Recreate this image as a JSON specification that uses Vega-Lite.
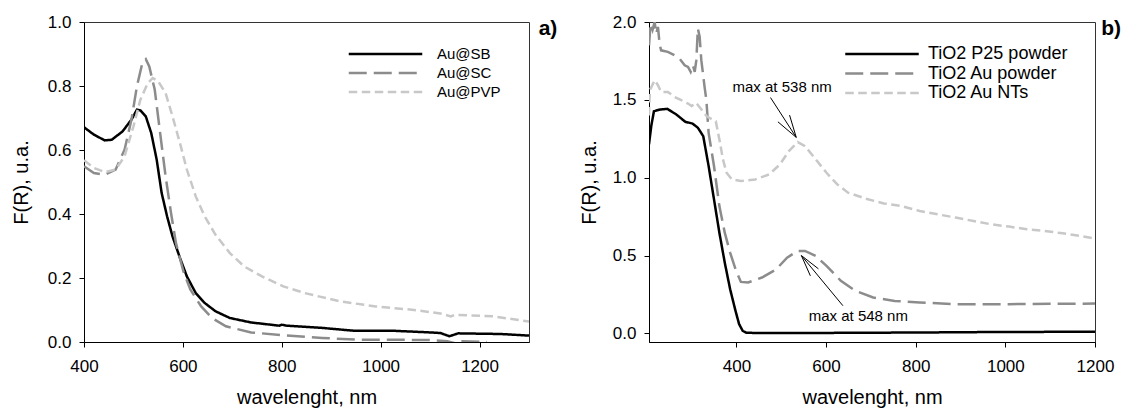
{
  "$schema": "https://vega.github.io/schema/vega-lite/v6.json",
  "padding": {"left": 10, "top": 12, "right": 0, "bottom": 0},
  "spacing": 20,
  "config": {
    "font": "Liberation Sans",
    "view": {"stroke": "#333333", "strokeWidth": 1},
    "axis": {"domainColor": "black", "tickColor": "black", "labelColor": "black", "titleColor": "black", "labelFontSize": 17, "titleFontSize": 20, "titleFontWeight": "normal", "grid": false, "tickSize": 5, "labelPadding": 8, "labelFlush": false, "labelFont": "Liberation Sans", "titleFont": "Liberation Sans"}
  },
  "resolve": {"scale": {"x": "independent", "y": "independent", "color": "independent", "strokeDash": "independent"}, "legend": {"color": "independent", "strokeDash": "independent"}},
  "hconcat": [
    {
      "width": 445, "height": 320,
      "title": {"text": "a)", "orient": "right", "anchor": "start", "angle": 0, "align": "left", "baseline": "top", "offset": -9, "dy": 5, "fontSize": 21, "fontWeight": "bold", "font": "Liberation Sans", "color": "black"},
      "data": {"values": [
        {"s":"Au@SB","w":400,"v":0.671},{"s":"Au@SB","w":420,"v":0.648},{"s":"Au@SB","w":442,"v":0.630},{"s":"Au@SB","w":456,"v":0.632},{"s":"Au@SB","w":478,"v":0.658},{"s":"Au@SB","w":496,"v":0.695},{"s":"Au@SB","w":507,"v":0.726},{"s":"Au@SB","w":514,"v":0.724},{"s":"Au@SB","w":525,"v":0.705},{"s":"Au@SB","w":536,"v":0.653},{"s":"Au@SB","w":547,"v":0.570},{"s":"Au@SB","w":557,"v":0.466},{"s":"Au@SB","w":568,"v":0.393},{"s":"Au@SB","w":579,"v":0.330},{"s":"Au@SB","w":594,"v":0.263},{"s":"Au@SB","w":608,"v":0.205},{"s":"Au@SB","w":626,"v":0.153},{"s":"Au@SB","w":644,"v":0.122},{"s":"Au@SB","w":666,"v":0.096},{"s":"Au@SB","w":695,"v":0.075},{"s":"Au@SB","w":738,"v":0.061},{"s":"Au@SB","w":795,"v":0.051},{"s":"Au@SB","w":800,"v":0.054},{"s":"Au@SB","w":810,"v":0.051},{"s":"Au@SB","w":882,"v":0.044},{"s":"Au@SB","w":947,"v":0.035},{"s":"Au@SB","w":1027,"v":0.035},{"s":"Au@SB","w":1099,"v":0.030},{"s":"Au@SB","w":1121,"v":0.028},{"s":"Au@SB","w":1139,"v":0.018},{"s":"Au@SB","w":1157,"v":0.027},{"s":"Au@SB","w":1243,"v":0.025},{"s":"Au@SB","w":1300,"v":0.020},
        {"s":"Au@SC","w":400,"v":0.549},{"s":"Au@SC","w":420,"v":0.528},{"s":"Au@SC","w":442,"v":0.523},{"s":"Au@SC","w":464,"v":0.539},{"s":"Au@SC","w":482,"v":0.601},{"s":"Au@SC","w":496,"v":0.695},{"s":"Au@SC","w":507,"v":0.799},{"s":"Au@SC","w":518,"v":0.872},{"s":"Au@SC","w":525,"v":0.884},{"s":"Au@SC","w":532,"v":0.861},{"s":"Au@SC","w":543,"v":0.789},{"s":"Au@SC","w":554,"v":0.653},{"s":"Au@SC","w":565,"v":0.518},{"s":"Au@SC","w":576,"v":0.403},{"s":"Au@SC","w":586,"v":0.309},{"s":"Au@SC","w":601,"v":0.221},{"s":"Au@SC","w":615,"v":0.164},{"s":"Au@SC","w":637,"v":0.111},{"s":"Au@SC","w":659,"v":0.075},{"s":"Au@SC","w":687,"v":0.049},{"s":"Au@SC","w":738,"v":0.030},{"s":"Au@SC","w":810,"v":0.020},{"s":"Au@SC","w":882,"v":0.0125},{"s":"Au@SC","w":955,"v":0.007},{"s":"Au@SC","w":1027,"v":0.007},{"s":"Au@SC","w":1099,"v":0.006},{"s":"Au@SC","w":1135,"v":0.002},{"s":"Au@SC","w":1148,"v":-0.003},{"s":"Au@SC","w":1165,"v":0.002},{"s":"Au@SC","w":1215,"v":0.0},
        {"s":"Au@PVP","w":400,"v":0.568},{"s":"Au@PVP","w":420,"v":0.544},{"s":"Au@PVP","w":442,"v":0.531},{"s":"Au@PVP","w":464,"v":0.539},{"s":"Au@PVP","w":482,"v":0.580},{"s":"Au@PVP","w":500,"v":0.674},{"s":"Au@PVP","w":514,"v":0.757},{"s":"Au@PVP","w":529,"v":0.809},{"s":"Au@PVP","w":539,"v":0.825},{"s":"Au@PVP","w":550,"v":0.815},{"s":"Au@PVP","w":565,"v":0.778},{"s":"Au@PVP","w":579,"v":0.705},{"s":"Au@PVP","w":594,"v":0.622},{"s":"Au@PVP","w":608,"v":0.539},{"s":"Au@PVP","w":626,"v":0.455},{"s":"Au@PVP","w":644,"v":0.393},{"s":"Au@PVP","w":666,"v":0.335},{"s":"Au@PVP","w":695,"v":0.278},{"s":"Au@PVP","w":724,"v":0.236},{"s":"Au@PVP","w":760,"v":0.205},{"s":"Au@PVP","w":803,"v":0.174},{"s":"Au@PVP","w":846,"v":0.153},{"s":"Au@PVP","w":918,"v":0.127},{"s":"Au@PVP","w":990,"v":0.111},{"s":"Au@PVP","w":1063,"v":0.101},{"s":"Au@PVP","w":1121,"v":0.089},{"s":"Au@PVP","w":1142,"v":0.080},{"s":"Au@PVP","w":1150,"v":0.085},{"s":"Au@PVP","w":1229,"v":0.080},{"s":"Au@PVP","w":1300,"v":0.064}
      ]},
      "mark": {"type": "line", "strokeWidth": 2.5, "clip": true},
      "encoding": {
        "x": {"field": "w", "type": "quantitative", "scale": {"domain": [400, 1300], "nice": false, "zero": false}, "axis": {"title": "wavelenght, nm", "values": [400, 600, 800, 1000, 1200], "format": "d", "labelPadding": 11, "titlePadding": 13}},
        "y": {"field": "v", "type": "quantitative", "scale": {"domain": [0, 1], "nice": false}, "axis": {"title": "F(R), u.a.", "values": [0, 0.2, 0.4, 0.6, 0.8, 1.0], "format": ".1f", "titlePadding": 16}},
        "color": {"field": "s", "type": "nominal", "scale": {"domain": ["Au@SB", "Au@SC", "Au@PVP"], "range": ["#000000", "#8c8c8c", "#c8c8c8"]},
          "legend": {"orient": "none", "legendX": 294, "legendY": 24.5, "title": null, "symbolType": "M-10.5,0H10.5", "symbolSize": 49, "symbolStrokeWidth": 2.5, "labelFontSize": 15, "labelFont": "Liberation Sans", "labelColor": "black", "labelOffset": 44, "rowPadding": 3, "padding": 0}},
        "strokeDash": {"field": "s", "type": "nominal", "scale": {"domain": ["Au@SB", "Au@SC", "Au@PVP"], "range": [[1, 0], [18, 7], [8.5, 4.5]]},
          "legend": {"orient": "none", "legendX": 294, "legendY": 24.5, "title": null, "symbolType": "M-10.5,0H10.5", "symbolSize": 49, "symbolStrokeWidth": 2.5, "labelFontSize": 15, "labelFont": "Liberation Sans", "labelColor": "black", "labelOffset": 44, "rowPadding": 3, "padding": 0}}
      }
    },
    {
      "width": 446, "height": 320,
      "title": {"text": "b)", "orient": "right", "anchor": "start", "angle": 0, "align": "left", "baseline": "top", "offset": -32.5, "dy": 5, "fontSize": 21, "fontWeight": "bold", "font": "Liberation Sans", "color": "black"},
      "layer": [
        {
          "data": {"values": [
            {"s":"TiO2 P25 powder","w":205,"v":1.214},{"s":"TiO2 P25 powder","w":210,"v":1.331},{"s":"TiO2 P25 powder","w":216,"v":1.427},{"s":"TiO2 P25 powder","w":230,"v":1.438},{"s":"TiO2 P25 powder","w":246,"v":1.442},{"s":"TiO2 P25 powder","w":266,"v":1.406},{"s":"TiO2 P25 powder","w":286,"v":1.359},{"s":"TiO2 P25 powder","w":302,"v":1.348},{"s":"TiO2 P25 powder","w":314,"v":1.321},{"s":"TiO2 P25 powder","w":326,"v":1.267},{"s":"TiO2 P25 powder","w":338,"v":1.075},{"s":"TiO2 P25 powder","w":350,"v":0.861},{"s":"TiO2 P25 powder","w":362,"v":0.647},{"s":"TiO2 P25 powder","w":374,"v":0.455},{"s":"TiO2 P25 powder","w":386,"v":0.284},{"s":"TiO2 P25 powder","w":398,"v":0.145},{"s":"TiO2 P25 powder","w":406,"v":0.060},{"s":"TiO2 P25 powder","w":414,"v":0.017},{"s":"TiO2 P25 powder","w":422,"v":0.004},{"s":"TiO2 P25 powder","w":489,"v":0.002},{"s":"TiO2 P25 powder","w":649,"v":0.004},{"s":"TiO2 P25 powder","w":809,"v":0.006},{"s":"TiO2 P25 powder","w":968,"v":0.009},{"s":"TiO2 P25 powder","w":1200,"v":0.011},
            {"s":"TiO2 Au powder","w":205,"v":1.85},{"s":"TiO2 Au powder","w":208.6,"v":1.99},{"s":"TiO2 Au powder","w":213,"v":1.95},{"s":"TiO2 Au powder","w":217.6,"v":2.0},{"s":"TiO2 Au powder","w":221,"v":1.925},{"s":"TiO2 Au powder","w":225,"v":1.968},{"s":"TiO2 Au powder","w":228.6,"v":1.861},{"s":"TiO2 Au powder","w":232,"v":1.818},{"s":"TiO2 Au powder","w":247,"v":1.808},{"s":"TiO2 Au powder","w":262,"v":1.786},{"s":"TiO2 Au powder","w":273,"v":1.765},{"s":"TiO2 Au powder","w":284.6,"v":1.722},{"s":"TiO2 Au powder","w":292,"v":1.712},{"s":"TiO2 Au powder","w":298,"v":1.680},{"s":"TiO2 Au powder","w":303,"v":1.722},{"s":"TiO2 Au powder","w":307,"v":1.680},{"s":"TiO2 Au powder","w":310.6,"v":1.755},{"s":"TiO2 Au powder","w":314,"v":1.958},{"s":"TiO2 Au powder","w":318,"v":1.905},{"s":"TiO2 Au powder","w":321.7,"v":1.755},{"s":"TiO2 Au powder","w":325.4,"v":1.669},{"s":"TiO2 Au powder","w":329,"v":1.583},{"s":"TiO2 Au powder","w":333,"v":1.498},{"s":"TiO2 Au powder","w":338,"v":1.288},{"s":"TiO2 Au powder","w":350,"v":1.075},{"s":"TiO2 Au powder","w":362,"v":0.818},{"s":"TiO2 Au powder","w":374,"v":0.647},{"s":"TiO2 Au powder","w":386,"v":0.519},{"s":"TiO2 Au powder","w":398,"v":0.412},{"s":"TiO2 Au powder","w":410,"v":0.331},{"s":"TiO2 Au powder","w":426,"v":0.327},{"s":"TiO2 Au powder","w":457,"v":0.359},{"s":"TiO2 Au powder","w":489,"v":0.412},{"s":"TiO2 Au powder","w":513,"v":0.487},{"s":"TiO2 Au powder","w":537,"v":0.530},{"s":"TiO2 Au powder","w":553,"v":0.530},{"s":"TiO2 Au powder","w":577,"v":0.498},{"s":"TiO2 Au powder","w":601,"v":0.434},{"s":"TiO2 Au powder","w":633,"v":0.338},{"s":"TiO2 Au powder","w":665,"v":0.274},{"s":"TiO2 Au powder","w":705,"v":0.231},{"s":"TiO2 Au powder","w":753,"v":0.209},{"s":"TiO2 Au powder","w":809,"v":0.199},{"s":"TiO2 Au powder","w":889,"v":0.188},{"s":"TiO2 Au powder","w":1008,"v":0.188},{"s":"TiO2 Au powder","w":1200,"v":0.192},
            {"s":"TiO2 Au NTs","w":205,"v":1.40},{"s":"TiO2 Au NTs","w":207,"v":1.562},{"s":"TiO2 Au NTs","w":217.6,"v":1.626},{"s":"TiO2 Au NTs","w":225,"v":1.594},{"s":"TiO2 Au NTs","w":232,"v":1.551},{"s":"TiO2 Au NTs","w":247,"v":1.551},{"s":"TiO2 Au NTs","w":262,"v":1.519},{"s":"TiO2 Au NTs","w":277,"v":1.498},{"s":"TiO2 Au NTs","w":292,"v":1.476},{"s":"TiO2 Au NTs","w":300,"v":1.46},{"s":"TiO2 Au NTs","w":310,"v":1.481},{"s":"TiO2 Au NTs","w":322,"v":1.438},{"s":"TiO2 Au NTs","w":334,"v":1.395},{"s":"TiO2 Au NTs","w":346,"v":1.374},{"s":"TiO2 Au NTs","w":354,"v":1.363},{"s":"TiO2 Au NTs","w":362,"v":1.246},{"s":"TiO2 Au NTs","w":370,"v":1.118},{"s":"TiO2 Au NTs","w":378,"v":1.032},{"s":"TiO2 Au NTs","w":390,"v":0.989},{"s":"TiO2 Au NTs","w":410,"v":0.979},{"s":"TiO2 Au NTs","w":442,"v":0.989},{"s":"TiO2 Au NTs","w":473,"v":1.021},{"s":"TiO2 Au NTs","w":497,"v":1.085},{"s":"TiO2 Au NTs","w":517,"v":1.171},{"s":"TiO2 Au NTs","w":537,"v":1.229},{"s":"TiO2 Au NTs","w":553,"v":1.203},{"s":"TiO2 Au NTs","w":577,"v":1.118},{"s":"TiO2 Au NTs","w":601,"v":1.032},{"s":"TiO2 Au NTs","w":625,"v":0.957},{"s":"TiO2 Au NTs","w":649,"v":0.904},{"s":"TiO2 Au NTs","w":689,"v":0.865},{"s":"TiO2 Au NTs","w":729,"v":0.835},{"s":"TiO2 Au NTs","w":769,"v":0.818},{"s":"TiO2 Au NTs","w":809,"v":0.786},{"s":"TiO2 Au NTs","w":849,"v":0.765},{"s":"TiO2 Au NTs","w":889,"v":0.744},{"s":"TiO2 Au NTs","w":929,"v":0.722},{"s":"TiO2 Au NTs","w":968,"v":0.701},{"s":"TiO2 Au NTs","w":1008,"v":0.686},{"s":"TiO2 Au NTs","w":1048,"v":0.669},{"s":"TiO2 Au NTs","w":1088,"v":0.658},{"s":"TiO2 Au NTs","w":1128,"v":0.643},{"s":"TiO2 Au NTs","w":1168,"v":0.626},{"s":"TiO2 Au NTs","w":1200,"v":0.609}
          ]},
          "mark": {"type": "line", "strokeWidth": 2.5, "clip": true},
          "encoding": {
            "x": {"field": "w", "type": "quantitative", "scale": {"domain": [205, 1200], "nice": false, "zero": false}, "axis": {"title": "wavelenght, nm", "values": [400, 600, 800, 1000, 1200], "format": "d", "labelPadding": 11, "titlePadding": 13}},
            "y": {"field": "v", "type": "quantitative", "scale": {"domain": [-0.055, 2.0], "nice": false, "zero": false}, "axis": {"title": "F(R), u.a.", "values": [0, 0.5, 1.0, 1.5, 2.0], "format": ".1f", "titlePadding": 13}},
            "color": {"field": "s", "type": "nominal", "scale": {"domain": ["TiO2 P25 powder", "TiO2 Au powder", "TiO2 Au NTs"], "range": ["#000000", "#8c8c8c", "#c8c8c8"]},
              "legend": {"orient": "none", "legendX": 224, "legendY": 23, "title": null, "symbolType": "M-10.5,0H10.5", "symbolSize": 49, "symbolStrokeWidth": 2.5, "labelFontSize": 18, "labelFont": "Liberation Sans", "labelColor": "black", "labelOffset": 37, "rowPadding": 1.5, "padding": 0}},
            "strokeDash": {"field": "s", "type": "nominal", "scale": {"domain": ["TiO2 P25 powder", "TiO2 Au powder", "TiO2 Au NTs"], "range": [[1, 0], [18, 7], [8.5, 4.5]]},
              "legend": {"orient": "none", "legendX": 224, "legendY": 23, "title": null, "symbolType": "M-10.5,0H10.5", "symbolSize": 49, "symbolStrokeWidth": 2.5, "labelFontSize": 18, "labelFont": "Liberation Sans", "labelColor": "black", "labelOffset": 37, "rowPadding": 1.5, "padding": 0}}
          }
        },
        {
          "data": {"values": [
            {"x": 476, "y": 1.515, "x2": 533.5, "y2": 1.259},
            {"x": 533.5, "y": 1.259, "x2": 492.6, "y2": 1.359},
            {"x": 533.5, "y": 1.259, "x2": 518.6, "y2": 1.402},
            {"x": 637.6, "y": 0.178, "x2": 545, "y2": 0.50},
            {"x": 545, "y": 0.50, "x2": 565, "y2": 0.37},
            {"x": 545, "y": 0.50, "x2": 583, "y2": 0.415}
          ]},
          "mark": {"type": "rule", "color": "black", "strokeWidth": 1},
          "encoding": {
            "x": {"field": "x", "type": "quantitative"},
            "y": {"field": "y", "type": "quantitative"},
            "x2": {"field": "x2"},
            "y2": {"field": "y2"}
          }
        },
        {
          "data": {"values": [
            {"x": 502, "y": 1.58, "t": "max at 538 nm"},
            {"x": 672, "y": 0.113, "t": "max at 548 nm"}
          ]},
          "mark": {"type": "text", "fontSize": 15, "font": "Liberation Sans", "color": "black", "align": "center", "baseline": "middle"},
          "encoding": {
            "x": {"field": "x", "type": "quantitative"},
            "y": {"field": "y", "type": "quantitative"},
            "text": {"field": "t"}
          }
        }
      ]
    }
  ]
}
